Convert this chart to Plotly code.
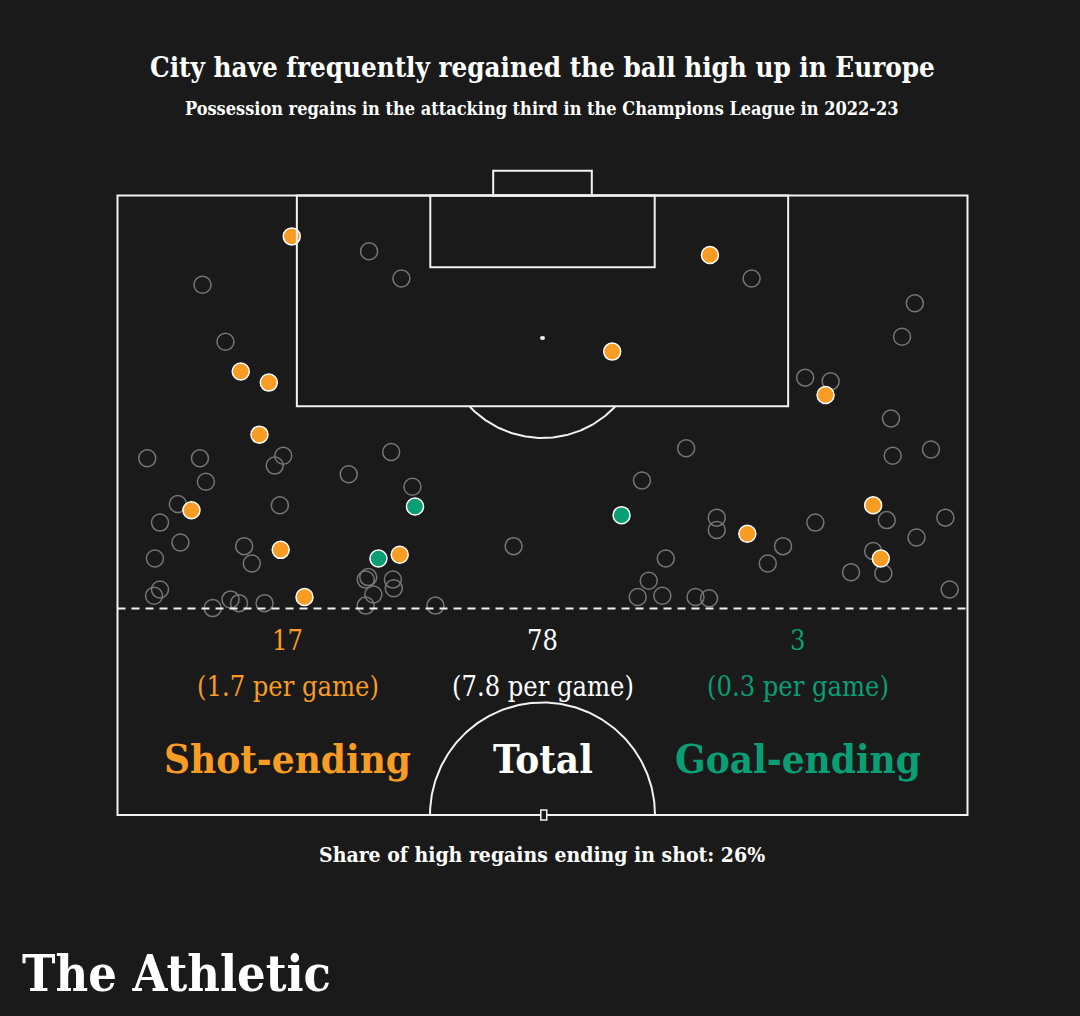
import numpy as np
import plotly.graph_objects as go

# ---------------- data (pitch units: width 0-100 across, length 50-100 toward goal) -------------
shot_w = [20.5, 14.5, 17.8, 69.7, 58.2, 83.3, 16.7, 8.7, 19.2, 33.2, 22.0, 74.1, 88.9, 89.8]
shot_l = [96.7, 85.8, 84.9, 95.2, 87.4, 83.9, 80.7, 74.6, 71.4, 71.0, 67.6, 72.7, 75.0, 70.7]

goal_w = [35.0, 30.7, 59.3]
goal_l = [74.9, 70.7, 74.2]

other_w = [29.6, 33.4, 10.0, 12.7, 74.6, 93.8, 92.3, 80.9, 83.9,
           3.5, 9.7, 19.5, 18.5, 32.2, 27.2, 10.4, 34.7, 7.1, 19.1,
           5.0, 7.4, 14.9, 15.8, 4.4, 46.6, 29.5, 29.2, 32.4, 32.5,
           30.1, 29.2, 5.0, 4.3, 13.3, 14.3, 11.2, 17.3, 37.4,
           91.0, 91.2, 95.7, 66.9, 61.7, 70.5, 70.5, 82.1, 90.5, 97.4,
           94.0, 78.3, 76.5, 64.5, 62.5, 61.2, 64.1, 68.0, 69.6, 88.9,
           90.1, 86.3, 97.9]
other_l = [95.5, 93.3, 92.8, 88.2, 93.3, 91.3, 88.6, 85.3, 85.0,
           78.8, 78.8, 79.0, 78.2, 79.3, 77.5, 76.9, 76.5, 75.1, 75.0,
           73.6, 72.0, 71.7, 70.3, 70.7, 71.7, 69.2, 69.0, 69.0, 68.3,
           67.8, 66.9, 68.2, 67.7, 67.4, 67.1, 66.7, 67.1, 66.9,
           82.0, 79.0, 79.5, 79.6, 77.0, 74.0, 73.0, 73.6, 73.8, 74.0,
           72.4, 71.7, 70.3, 70.7, 68.9, 67.6, 67.7, 67.6, 67.5, 71.3,
           69.5, 69.6, 68.2]

stat_labels = ["Shot-ending", "Total", "Goal-ending"]
stat_counts = ["17", "78", "3"]
stat_per_game = ["(1.7 per game)", "(7.8 per game)", "(0.3 per game)"]
stat_w = [20, 50, 80]

title = "City have frequently regained the ball high up in Europe"
subtitle = "Possession regains in the attacking third in the Champions League in 2022-23"
footer = "Share of high regains ending in shot: 26%"
brand = "The Athletic"

# ---------------- style -------------
W, H = 1080, 1016
BG = "#1a1a1a"
ORANGE = "#f89c24"
GREEN = "#0a9e74"
GREY = "#767676"
LINE = "#f2f2f2"
FONT = "DejaVu Serif Condensed, DejaVu Serif, serif"

# pixel geometry of the pitch
X0_PX, PX_W = 117.5, 8.5      # w=0 at x px 117.5
Y100_PX, PX_L = 195.5, 12.39   # l=100 at y px 195.5

x_range = [(0 - X0_PX) / PX_W, (W - X0_PX) / PX_W]
y_range = [100 - (H - Y100_PX) / PX_L, 100 + Y100_PX / PX_L]


def py2l(py):
    return 100 - (py - Y100_PX) / PX_L


def px2paper(px):
    return px / W


def py2paper(py):
    return 1 - py / H


fig = go.Figure()

shapes = []
lw = 2
# outer half pitch
shapes.append(dict(type="rect", x0=0, x1=100, y0=50, y1=100, line=dict(color=LINE, width=lw)))
# penalty box
shapes.append(dict(type="rect", x0=21.1, x1=78.9, y0=83.0, y1=100, line=dict(color=LINE, width=lw)))
# six-yard box
shapes.append(dict(type="rect", x0=36.8, x1=63.2, y0=94.2, y1=100, line=dict(color=LINE, width=lw)))
# goal
shapes.append(dict(type="rect", x0=44.2, x1=55.8, y0=100, y1=102.0, line=dict(color=LINE, width=lw)))
# penalty spot
shapes.append(dict(type="rect", x0=49.8, x1=50.2, y0=88.4, y1=88.6,
                   line=dict(color=LINE, width=1), fillcolor=LINE))
# attacking-third dashed line
shapes.append(dict(type="line", x0=0, x1=100, y0=66.67, y1=66.67,
                   line=dict(color=LINE, width=2, dash="8px,6px")))
fig.update_layout(shapes=shapes)

# penalty arc (outside the box)
r_px = 100
t = np.linspace(0, np.pi, 200)
ax = 50 + r_px * np.cos(t) / PX_W
ay = 88.5 - r_px * np.sin(t) / PX_L
mask = ay <= 83.0
fig.add_trace(go.Scatter(x=ax[mask], y=ay[mask], mode="lines",
                         line=dict(color=LINE, width=2), hoverinfo="skip", showlegend=False))
# centre circle (top half)
rc_px = 112.5
cx = 50 + rc_px * np.cos(t) / PX_W
cy = 50 + rc_px * np.sin(t) / PX_L
fig.add_trace(go.Scatter(x=cx, y=cy, mode="lines",
                         line=dict(color=LINE, width=2), hoverinfo="skip", showlegend=False))
# centre spot
fig.add_shape(type="rect", x0=49.8, x1=50.5, y0=49.6, y1=50.4,
              line=dict(color=LINE, width=1.5), fillcolor=BG)

# ---------------- points -------------
fig.add_trace(go.Scatter(x=other_w, y=other_l, mode="markers",
                         marker=dict(size=17, color="rgba(0,0,0,0)",
                                     line=dict(color=GREY, width=1.5)),
                         showlegend=False, hoverinfo="skip"))
fig.add_trace(go.Scatter(x=shot_w, y=shot_l, mode="markers",
                         marker=dict(size=17, color=ORANGE, line=dict(color="white", width=1.5)),
                         showlegend=False, hoverinfo="skip"))
fig.add_trace(go.Scatter(x=goal_w, y=goal_l, mode="markers",
                         marker=dict(size=17, color=GREEN, line=dict(color="white", width=1.5)),
                         showlegend=False, hoverinfo="skip"))

# ---------------- stats text -------------
colors = [ORANGE, "white", GREEN]
ann = []
for w, lab, cnt, pg, col in zip(stat_w, stat_labels, stat_counts, stat_per_game, colors):
    ann.append(dict(x=w, y=py2l(640), text=cnt, showarrow=False, xanchor="center", yanchor="middle",
                    font=dict(family=FONT, size=27, color=col)))
    ann.append(dict(x=w, y=py2l(686), text=pg, showarrow=False, xanchor="center", yanchor="middle",
                    font=dict(family=FONT, size=27, color=col)))
    ann.append(dict(x=w, y=py2l(758), text="<b>%s</b>" % lab, showarrow=False, xanchor="center",
                    yanchor="middle", font=dict(family=FONT, size=40, color=col)))

ann.append(dict(xref="paper", yref="paper", x=px2paper(542), y=py2paper(67), text="<b>%s</b>" % title,
                showarrow=False, xanchor="center", yanchor="middle",
                font=dict(family=FONT, size=27.5, color="white")))
ann.append(dict(xref="paper", yref="paper", x=px2paper(542), y=py2paper(108), text="<b>%s</b>" % subtitle,
                showarrow=False, xanchor="center", yanchor="middle",
                font=dict(family=FONT, size=18, color="white")))
ann.append(dict(xref="paper", yref="paper", x=px2paper(542), y=py2paper(854), text="<b>%s</b>" % footer,
                showarrow=False, xanchor="center", yanchor="middle",
                font=dict(family=FONT, size=21, color="white")))
ann.append(dict(xref="paper", yref="paper", x=px2paper(20), y=py2paper(973), text="<b>%s</b>" % brand,
                showarrow=False, xanchor="left", yanchor="middle",
                font=dict(family=FONT, size=50, color="white")))

fig.update_layout(
    annotations=ann,
    width=W, height=H,
    margin=dict(l=0, r=0, t=0, b=0),
    paper_bgcolor=BG, plot_bgcolor=BG,
    xaxis=dict(range=x_range, visible=False, fixedrange=True),
    yaxis=dict(range=y_range, visible=False, fixedrange=True),
    showlegend=False,
)

fig.write_html("out.html", config={"displayModeBar": False})
